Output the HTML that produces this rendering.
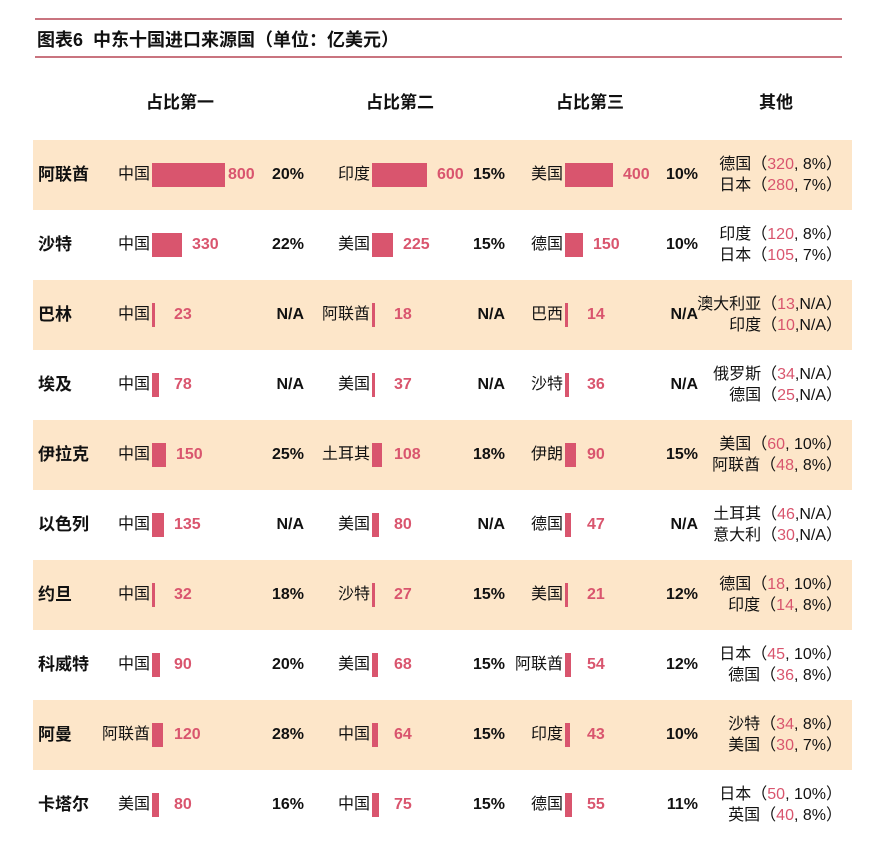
<!DOCTYPE html>
<html><head><meta charset="utf-8"><style>
body{margin:0;width:894px;height:851px;background:#fff;position:relative;overflow:hidden;font-family:"Liberation Sans","Noto Sans CJK SC",sans-serif;color:#111}
.a{position:absolute;white-space:nowrap;line-height:20px;height:20px}
.line{position:absolute;left:35px;width:807px;height:2px;background:#c9747f}
.stripe{position:absolute;left:33px;width:819px;height:70px;background:#fde6c9}
.h{font-weight:bold;font-size:17px}
.c{font-weight:bold;font-size:17px}
.l{font-size:16px;text-align:right}
.v{font-size:16px;font-weight:bold;color:#d9556e}
.p{font-size:16px;font-weight:bold;text-align:right}
.bar{position:absolute;background:#d9556e;height:24px}
.a.o{font-size:16px;text-align:right;line-height:21px;height:42px}
.o span{color:#d9556e}
</style></head><body>
<div class="line" style="top:18px"></div>
<div class="line" style="top:56px"></div>
<div class="a h" style="left:37px;top:30px;font-size:18px">图表6&nbsp; 中东十国进口来源国（单位：亿美元）</div>
<div class="a h" style="left:146px;top:93px">占比第一</div>
<div class="a h" style="left:366px;top:93px">占比第二</div>
<div class="a h" style="left:556px;top:93px">占比第三</div>
<div class="a h" style="left:759px;top:93px">其他</div>
<div id="rows"></div>
<script>
var R=[
["阿联酋","中国",800,"20%","印度",600,"15%","美国",400,"10%",["德国","320",", 8%"],["日本","280",", 7%"]],
["沙特","中国",330,"22%","美国",225,"15%","德国",150,"10%",["印度","120",", 8%"],["日本","105",", 7%"]],
["巴林","中国",23,"N/A","阿联酋",18,"N/A","巴西",14,"N/A",["澳大利亚","13",",N/A"],["印度","10",",N/A"]],
["埃及","中国",78,"N/A","美国",37,"N/A","沙特",36,"N/A",["俄罗斯","34",",N/A"],["德国","25",",N/A"]],
["伊拉克","中国",150,"25%","土耳其",108,"18%","伊朗",90,"15%",["美国","60",", 10%"],["阿联酋","48",", 8%"]],
["以色列","中国",135,"N/A","美国",80,"N/A","德国",47,"N/A",["土耳其","46",",N/A"],["意大利","30",",N/A"]],
["约旦","中国",32,"18%","沙特",27,"15%","美国",21,"12%",["德国","18",", 10%"],["印度","14",", 8%"]],
["科威特","中国",90,"20%","美国",68,"15%","阿联酋",54,"12%",["日本","45",", 10%"],["德国","36",", 8%"]],
["阿曼","阿联酋",120,"28%","中国",64,"15%","印度",43,"10%",["沙特","34",", 8%"],["美国","30",", 7%"]],
["卡塔尔","美国",80,"16%","中国",75,"15%","德国",55,"11%",["日本","50",", 10%"],["英国","40",", 8%"]]];
var cols=[[152,0.091,304],[372,0.092,505],[565,0.12,698]];
var h="";
R.forEach(function(r,i){
 var cy=175+70*i;
 if(i%2==0)h+='<div class="stripe" style="top:'+(cy-35)+'px"></div>';
 h+='<div class="a c" style="left:38px;top:'+(cy-10)+'px">'+r[0]+'</div>';
 for(var k=0;k<3;k++){
  var s=cols[k][0],w=Math.max(3,Math.round(r[2+3*k]*cols[k][1]));
  h+='<div class="a l" style="right:'+(894-s+2)+'px;top:'+(cy-10)+'px">'+r[1+3*k]+'</div>';
  h+='<div class="bar" style="left:'+s+'px;top:'+(cy-12)+'px;width:'+w+'px"></div>';
  var vx=s+w+(w>60?3:10); if(vx<s+22)vx=s+22;
  h+='<div class="a v" style="left:'+vx+'px;top:'+(cy-10)+'px">'+r[2+3*k]+'</div>';
  h+='<div class="a p" style="right:'+(894-cols[k][2])+'px;top:'+(cy-10)+'px">'+r[3+3*k]+'</div>';
 }
 var o=r[10],q=r[11];
 h+='<div class="a o" style="right:52px;top:'+(cy-21)+'px">'+o[0]+'（<span>'+o[1]+'</span>'+o[2]+'）<br>'+q[0]+'（<span>'+q[1]+'</span>'+q[2]+'）</div>';
});
document.getElementById("rows").innerHTML=h;
</script>
</body></html>
